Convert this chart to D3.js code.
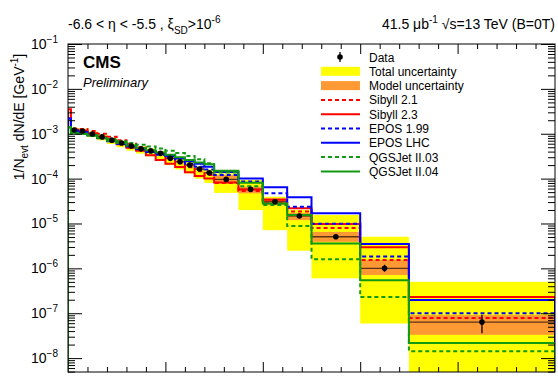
<!DOCTYPE html>
<html>
<head>
<meta charset="utf-8">
<script src="https://d3js.org/d3.v7.min.js"></script>
<style>
  body { margin: 0; background: #fff; }
  svg text { font-family: "Liberation Sans", Arial, sans-serif; fill: #000; }
</style>
</head>
<body>
<div id="chart"></div>
<script>
// bin edges (energy, 1000 GeV units on the axis)
var edges = [0, 0.03, 0.1, 0.2, 0.3, 0.4, 0.5, 0.6, 0.7, 0.8, 0.9, 1.0, 1.1, 1.2, 1.3, 1.4, 1.5, 1.75, 2.0, 2.25, 2.5, 3.0, 3.5, 5.0];

var dataVal = [null, 1.21e-3, 1.15e-3, 9.9e-4, 8.5e-4, 7.2e-4, 6.2e-4, 5.3e-4, 4.6e-4, 4.15e-4, 3.66e-4, 2.83e-4, 2.38e-4, 2.01e-4, 1.64e-4, 1.35e-4, 9.6e-5, 5.77e-5, 3.05e-5, 1.47e-5, 5.06e-6, 1.0e-6, 6.35e-8];
var errLo = [null, 1.18e-3, 1.12e-3, 9.6e-4, 8.2e-4, 7.0e-4, 6.0e-4, 5.1e-4, 4.45e-4, 4.0e-4, 3.53e-4, 2.72e-4, 2.28e-4, 1.92e-4, 1.56e-4, 1.28e-4, 9.0e-5, 5.4e-5, 2.85e-5, 1.37e-5, 4.5e-6, 8.4e-7, 3.6e-8];
var errHi = [null, 1.24e-3, 1.18e-3, 1.02e-3, 8.8e-4, 7.4e-4, 6.4e-4, 5.5e-4, 4.75e-4, 4.3e-4, 3.8e-4, 2.94e-4, 2.48e-4, 2.1e-4, 1.72e-4, 1.42e-4, 1.02e-4, 6.1e-5, 3.25e-5, 1.57e-5, 5.7e-6, 1.2e-6, 9.2e-8];

var totLo = [null, 1.05e-3, 9.9e-4, 8.4e-4, 7.1e-4, 5.9e-4, 5.0e-4, 4.2e-4, 3.6e-4, 3.15e-4, 2.7e-4, 2.0e-4, 1.6e-4, 1.3e-4, 1.0e-4, 8.0e-5, 4.8e-5, 2.0e-5, 7.1e-6, 2.47e-6, 6.0e-7, 5.9e-8, 1e-9];
var totHi = [null, 1.36e-3, 1.3e-3, 1.12e-3, 9.6e-4, 8.1e-4, 7.0e-4, 6.0e-4, 5.2e-4, 4.7e-4, 4.15e-4, 3.25e-4, 2.75e-4, 2.35e-4, 1.92e-4, 1.6e-4, 1.3e-4, 9.3e-5, 3.94e-5, 2.0e-5, 1.54e-5, 5.06e-6, 5.0e-7];
var modLo = [null, 1.15e-3, 1.09e-3, 9.4e-4, 8.1e-4, 6.85e-4, 5.9e-4, 5.04e-4, 4.37e-4, 3.94e-4, 3.47e-4, 2.68e-4, 2.25e-4, 1.9e-4, 1.55e-4, 1.27e-4, 8.0e-5, 4.7e-5, 2.58e-5, 1.19e-5, 3.9e-6, 7.1e-7, 3.3e-8];
var modHi = [null, 1.27e-3, 1.21e-3, 1.04e-3, 8.9e-4, 7.55e-4, 6.5e-4, 5.56e-4, 4.83e-4, 4.36e-4, 3.85e-4, 2.98e-4, 2.51e-4, 2.12e-4, 1.73e-4, 1.43e-4, 1.2e-4, 6.6e-5, 3.69e-5, 1.71e-5, 6.5e-6, 1.53e-6, 9.1e-8];

var sibyll21 = [3.5e-3, 1.3e-3, 1.28e-3, 1.15e-3, 1.0e-3, 8.6e-4, 7.2e-4, 6.0e-4, 5.0e-4, 4.2e-4, 3.5e-4, 2.7e-4, 2.2e-4, 1.8e-4, 1.45e-4, 1.2e-4, 8.0e-5, 5.3e-5, 2.9e-5, 1.84e-5, 7.9e-6, 1.53e-6, 7.8e-8];
var sibyll23 = [3.5e-3, 1.25e-3, 1.18e-3, 1.02e-3, 8.6e-4, 7.0e-4, 5.8e-4, 4.9e-4, 4.2e-4, 3.3e-4, 2.6e-4, 2.15e-4, 1.82e-4, 1.38e-4, 1.15e-4, 1.0e-4, 8.2e-5, 5.7e-5, 3.4e-5, 2.18e-5, 9.7e-6, 2.96e-6, 2.3e-7];
var epos199 = [2.2e-3, 1.15e-3, 1.08e-3, 9.3e-4, 7.9e-4, 6.8e-4, 5.9e-4, 5.1e-4, 4.5e-4, 3.9e-4, 3.4e-4, 2.9e-4, 2.5e-4, 2.15e-4, 1.85e-4, 1.6e-4, 1.2e-4, 8.6e-5, 4.7e-5, 2.35e-5, 9.9e-6, 1.83e-6, 1.0e-7];
var eposLHC = [2.2e-3, 1.2e-3, 1.1e-3, 9.4e-4, 8.0e-4, 6.9e-4, 6.0e-4, 5.2e-4, 4.6e-4, 4.1e-4, 3.7e-4, 3.2e-4, 2.8e-4, 2.45e-4, 2.15e-4, 1.85e-4, 1.4e-4, 1.01e-4, 6.4e-5, 3.83e-5, 1.69e-5, 3.48e-6, 1.96e-7];
var qgs03 = [1.4e-3, 1.0e-3, 1.0e-3, 9.4e-4, 8.5e-4, 7.6e-4, 6.8e-4, 6.2e-4, 5.7e-4, 5.2e-4, 4.7e-4, 4.2e-4, 3.7e-4, 3.2e-4, 2.7e-4, 2.2e-4, 1.36e-4, 6.8e-5, 2.58e-5, 8.8e-6, 1.59e-6, 2.3e-7, 1.43e-8];
var qgs04 = [1.4e-3, 1.05e-3, 1.0e-3, 9.0e-4, 8.0e-4, 7.0e-4, 6.2e-4, 5.5e-4, 4.8e-4, 4.3e-4, 3.8e-4, 3.4e-4, 3.0e-4, 2.6e-4, 2.3e-4, 2.1e-4, 1.5e-4, 8.1e-5, 2.8e-5, 1.54e-5, 3.6e-6, 5.4e-7, 2.16e-8];

var models = [
  {name: "Sibyll 2.1",   vals: sibyll21, color: "#ff0000", dash: "4,3"},
  {name: "Sibyll 2.3",   vals: sibyll23, color: "#ff0000", dash: null},
  {name: "EPOS 1.99",    vals: epos199,  color: "#0000ff", dash: "4,3"},
  {name: "EPOS LHC",     vals: eposLHC,  color: "#0000ff", dash: null},
  {name: "QGSJet II.03", vals: qgs03,    color: "#119911", dash: "4,3"},
  {name: "QGSJet II.04", vals: qgs04,    color: "#119911", dash: null}
];

var yDecades = [-1, -2, -3, -4, -5, -6, -7, -8];

var W = 558, H = 376;
var pL = 68, pR = 555, pT = 44, pB = 372;
var yMin = 4.9e-9, yMax = 0.1;

var svg = d3.select("#chart").append("svg").attr("width", W).attr("height", H);

var x = d3.scaleLinear().domain([0, 5]).range([pL, pR]);
var y = d3.scaleLog().domain([yMin, yMax]).range([pB, pT]);

svg.append("clipPath").attr("id", "clip")
  .append("rect").attr("x", pL).attr("y", pT).attr("width", pR - pL).attr("height", pB - pT);

var plot = svg.append("g").attr("clip-path", "url(#clip)");

var bins = d3.range(dataVal.length).map(function(i) {
  return {i: i, x0: edges[i], x1: edges[i + 1]};
});
var dbins = bins.filter(function(b) { return dataVal[b.i] != null; });

// total uncertainty
plot.selectAll("rect.tot").data(dbins).enter().append("rect")
  .attr("x", function(b) { return x(b.x0); })
  .attr("width", function(b) { return x(b.x1) - x(b.x0); })
  .attr("y", function(b) { return y(totHi[b.i]); })
  .attr("height", function(b) { return y(totLo[b.i]) - y(totHi[b.i]); })
  .attr("fill", "#ffff00");

// model uncertainty
plot.selectAll("rect.mod").data(dbins).enter().append("rect")
  .attr("x", function(b) { return x(b.x0); })
  .attr("width", function(b) { return x(b.x1) - x(b.x0); })
  .attr("y", function(b) { return y(modHi[b.i]); })
  .attr("height", function(b) { return y(modLo[b.i]) - y(modHi[b.i]); })
  .attr("fill", "#ff9933");

// data central line
plot.selectAll("line.dl").data(dbins).enter().append("line")
  .attr("x1", function(b) { return x(b.x0); })
  .attr("x2", function(b) { return x(b.x1); })
  .attr("y1", function(b) { return y(dataVal[b.i]); })
  .attr("y2", function(b) { return y(dataVal[b.i]); })
  .attr("stroke", "#5c3317").attr("stroke-width", 1.3);

// model histograms
var step = d3.line()
  .x(function(d) { return x(d[0]); })
  .y(function(d) { return y(d[1]); })
  .curve(d3.curveStepAfter);

models.forEach(function(m) {
  var pts = [[edges[0], yMin]];
  m.vals.forEach(function(v, i) { pts.push([edges[i], v]); });
  pts.push([edges[edges.length - 1], m.vals[m.vals.length - 1]]);
  pts.push([edges[edges.length - 1], yMin]);
  plot.append("path").attr("d", step(pts))
    .attr("fill", "none").attr("stroke", m.color).attr("stroke-width", 2)
    .attr("stroke-dasharray", m.dash);
});

// data points
plot.selectAll("line.err").data(dbins).enter().append("line")
  .attr("x1", function(b) { return x((b.x0 + b.x1) / 2); })
  .attr("x2", function(b) { return x((b.x0 + b.x1) / 2); })
  .attr("y1", function(b) { return y(errLo[b.i]); })
  .attr("y2", function(b) { return y(errHi[b.i]); })
  .attr("stroke", "#000").attr("stroke-width", 1.3);
plot.selectAll("circle.pt").data(dbins).enter().append("circle")
  .attr("cx", function(b) { return x((b.x0 + b.x1) / 2); })
  .attr("cy", function(b) { return y(dataVal[b.i]); })
  .attr("r", 2.8).attr("fill", "#000");

// axes: ticks inside the frame
var minorY = [];
for (var p = -9; p < -1; p++) for (var k = 2; k <= 9; k++) {
  var v = k * Math.pow(10, p);
  if (v > yMin && v < yMax) minorY.push(v);
}
var majorY = yDecades.map(function(e) { return Math.pow(10, e); });

function noDomain(g) { g.select(".domain").remove(); g.selectAll("line").attr("stroke", "#000"); }

svg.append("g").attr("transform", "translate(" + pL + ",0)")
  .call(d3.axisLeft(y).tickValues(minorY).tickSize(-7).tickFormat("")).call(noDomain);
svg.append("g").attr("transform", "translate(" + pL + ",0)")
  .call(d3.axisLeft(y).tickValues(majorY).tickSize(-14).tickFormat("")).call(noDomain);
svg.append("g").attr("transform", "translate(" + pR + ",0)")
  .call(d3.axisRight(y).tickValues(minorY).tickSize(-7).tickFormat("")).call(noDomain);
svg.append("g").attr("transform", "translate(" + pR + ",0)")
  .call(d3.axisRight(y).tickValues(majorY).tickSize(-14).tickFormat("")).call(noDomain);

var minorX = d3.range(0, 5.01, 0.2).filter(function(v) { return Math.abs(v - Math.round(v)) > 1e-6; });
var majorX = [1, 2, 3, 4];
svg.append("g").attr("transform", "translate(0," + pB + ")")
  .call(d3.axisBottom(x).tickValues(minorX).tickSize(-5).tickFormat("")).call(noDomain);
svg.append("g").attr("transform", "translate(0," + pB + ")")
  .call(d3.axisBottom(x).tickValues(majorX).tickSize(-10).tickFormat("")).call(noDomain);
svg.append("g").attr("transform", "translate(0," + pT + ")")
  .call(d3.axisTop(x).tickValues(minorX).tickSize(-5).tickFormat("")).call(noDomain);
svg.append("g").attr("transform", "translate(0," + pT + ")")
  .call(d3.axisTop(x).tickValues(majorX).tickSize(-10).tickFormat("")).call(noDomain);

svg.append("rect").attr("x", pL).attr("y", pT).attr("width", pR - pL).attr("height", pB - pT)
  .attr("fill", "none").attr("stroke", "#000").attr("stroke-width", 1);

// y tick labels
yDecades.forEach(function(e) {
  var t = svg.append("text").attr("x", 58).attr("y", y(Math.pow(10, e)) + 5)
    .attr("text-anchor", "end").style("font-size", "14px");
  t.append("tspan").text("10");
  t.append("tspan").attr("dy", -6).style("font-size", "10px").text("\u2212" + (-e));
});

// y title
var yt = svg.append("text").attr("transform", "translate(24,117) rotate(-90)")
  .attr("text-anchor", "middle").style("font-size", "14px");
yt.append("tspan").text("1/N");
yt.append("tspan").attr("dy", 4).style("font-size", "10px").text("evt");
yt.append("tspan").attr("dy", -4).text(" dN/dE [GeV");
yt.append("tspan").attr("dy", -6).style("font-size", "10px").text("-1");
yt.append("tspan").attr("dy", 6).text("]");

// header
var h1 = svg.append("text").attr("x", 68).attr("y", 29).style("font-size", "14px");
h1.append("tspan").text("-6.6 < \u03b7 < -5.5 , \u03be");
h1.append("tspan").attr("dy", 5).style("font-size", "10px").text("SD");
h1.append("tspan").attr("dy", -5).text(">10");
h1.append("tspan").attr("dy", -6).style("font-size", "10px").text("-6");

var h2 = svg.append("text").attr("x", 555).attr("y", 29).attr("text-anchor", "end").style("font-size", "14px");
h2.append("tspan").text("41.5 \u03bcb");
h2.append("tspan").attr("dy", -6).style("font-size", "10px").text("-1");
h2.append("tspan").attr("dy", 6).text(" \u221as=13 TeV (B=0T)");

svg.append("text").attr("x", 83).attr("y", 68).style("font-size", "17px").style("font-weight", "bold").text("CMS");
svg.append("text").attr("x", 83).attr("y", 87).style("font-size", "13px").style("font-style", "italic").text("Preliminary");

// legend
var lx0 = 321, lx1 = 360, ltx = 369, ly0 = 57, ldy = 14.3;
var leg = svg.append("g");
leg.append("line").attr("x1", 340).attr("x2", 340).attr("y1", ly0 - 5).attr("y2", ly0 + 5).attr("stroke", "#000").attr("stroke-width", 1.3);
leg.append("circle").attr("cx", 340).attr("cy", ly0).attr("r", 2.8).attr("fill", "#000");
leg.append("rect").attr("x", lx0).attr("y", ly0 + ldy - 4.5).attr("width", lx1 - lx0).attr("height", 9).attr("fill", "#ffff00");
leg.append("rect").attr("x", lx0).attr("y", ly0 + 2 * ldy - 4.5).attr("width", lx1 - lx0).attr("height", 9).attr("fill", "#ff9933");
models.forEach(function(m, i) {
  var yy = ly0 + (i + 3) * ldy;
  leg.append("line").attr("x1", lx0).attr("x2", lx1).attr("y1", yy).attr("y2", yy)
    .attr("stroke", m.color).attr("stroke-width", 2).attr("stroke-dasharray", m.dash);
});
var labels = ["Data", "Total uncertainty", "Model uncertainty"].concat(models.map(function(m) { return m.name; }));
labels.forEach(function(s, i) {
  leg.append("text").attr("x", ltx).attr("y", ly0 + i * ldy + 4.5).style("font-size", "12px").text(s);
});
</script>
</body>
</html>
